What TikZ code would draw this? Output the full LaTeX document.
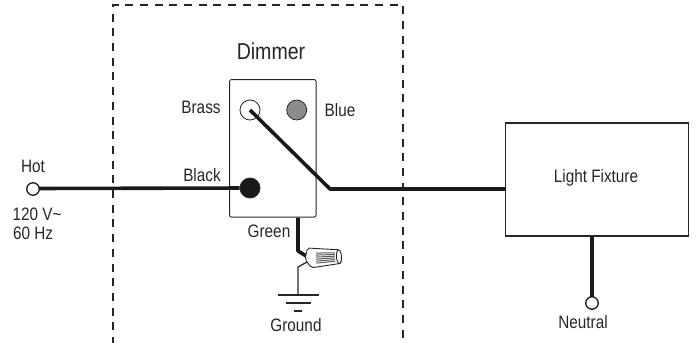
\documentclass[tikz,border=0pt]{standalone}
\usepackage{fontspec}
\setmainfont{Liberation Sans}
\usetikzlibrary{arrows.meta,positioning,calc}

\begin{document}
\begin{tikzpicture}[
    x=1pt, y=-1pt,
    box/.style={rectangle, draw=black!85},
    terminal/.style={circle, draw=black!85, line width=0.8pt, minimum size=20pt, inner sep=0pt},
    endpoint/.style={circle, draw=black!90, fill=white, line width=1.3pt, minimum size=12.5pt, inner sep=0pt},
    label/.style={inner sep=0pt, font=\fontsize{18}{20}\selectfont, text=black!85, xscale=0.85},
    wire/.style={black!90, line width=3.6pt, line join=round},
    thinwire/.style={black!85, line width=1.3pt, line join=round},
    nutline/.style={black!65, line width=1pt}
]
    \useasboundingbox (0,0) rectangle (697,343);

    % Dimmer enclosure
    \draw[black!85, line width=1.8pt, dash pattern=on 8pt off 6.7pt] (112.7,345) -- (112.7,4.7) -- (403,4.7) -- (403,345);

    % Main boxes
    \node[box, line width=0.9pt, rounded corners=2pt, minimum width=86.5pt, minimum height=137.5pt] (dimmer) at (272.8,148.3) {};
    \node[box, line width=1.3pt, minimum width=183pt, minimum height=113pt] (fixture) at (597.2,179.5) {};

    % Terminals
    \node[terminal, fill=white] (brass) at (250,110) {};
    \node[terminal, fill=black!45] (blue) at (296.7,110) {};
    \node[terminal, fill=black!90] (black) at (250,188) {};

    \coordinate (bend) at (330,189);
    \coordinate (greenbend) at (298,251);
    \coordinate (nutin) at (308,257);
    \coordinate (nutout) at (307,262);
    \coordinate (groundbend) at (298,267);
    \coordinate (earth) at (298,295);

    % Wires
    \draw[wire] (33,188.5) -- (black);
    \draw[wire] (brass.center) -- (bend) -- (fixture.west |- bend);
    \draw[wire] (greenbend |- dimmer.south) -- (greenbend) -- (nutin);
    \draw[wire] (fixture.south -| 592,0) -- (592,303);
    \node[endpoint] (hot) at (33,189) {};
    \node[endpoint] (neutral) at (592,303) {};
    \draw[thinwire] (nutout) -- (groundbend) -- (earth);

    % Wire nut
    \begin{scope}[shift={(308,258)}, rotate=3]
        \draw[black!85, fill=white, line width=0.9pt, rounded corners=2pt] (0,-10) -- (32,-6.5) -- (33,7) -- (3,10) -- (-3,1) -- cycle;
        \draw[black!85, fill=white, line width=0.9pt] (31,0.3) ellipse (2.5pt and 6.8pt);
        \foreach \y in {-4.5,-2.5,...,5.5}
            \draw[nutline] (8,\y) -- (27,\y*0.85);
    \end{scope}

    % Ground symbol
    \draw[thinwire] (278,295) -- (319,295);
    \draw[thinwire] (286,303) -- (311,303);
    \draw[thinwire] (294,311) -- (302,311);

    % Labels
    \node[label, font=\fontsize{23}{25}\selectfont] (dimmertxt) at (271,51) {Dimmer};
    \node[label] (brasstxt) at (201,107) {Brass};
    \node[label] (bluetxt) at (340,110) {Blue};
    \node[label] (blacktxt) at (202,175) {Black};
    \node[label] (greentxt) at (269,231) {Green};
    \node[label] (hottxt) at (33,166) {Hot};
    \node[label] (volttxt) at (37,214) {120 V\char"007E};
    \node[label] (hztxt) at (33,233) {60 Hz};
    \node[label] (groundtxt) at (296,325) {Ground};
    \node[label] (fixturetxt) at (596,178) {Light Fixture};
    \node[label] (neutraltxt) at (583,322) {Neutral};
\end{tikzpicture}
\end{document}
